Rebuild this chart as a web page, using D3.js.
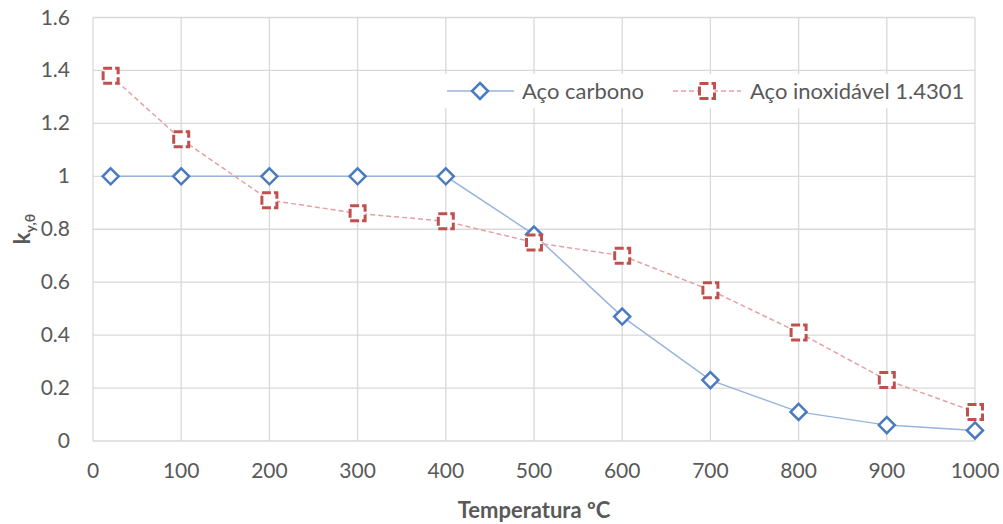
<!doctype html>
<html lang="en">
<head>
  <meta charset="utf-8" />
  <title>k y,θ vs temperatura</title>
  <script src="https://cdn.jsdelivr.net/npm/d3@7"></script>
  <style>
    body { margin: 0; background: #fff; }
    text { font-family: Lato, "Open Sans", sans-serif; fill: #595959; }
  </style>
</head>
<body>
  <svg id="chart" width="1003" height="524"></svg>
  <script>
    const temps = [20, 100, 200, 300, 400, 500, 600, 700, 800, 900, 1000];
    const carbono = [1, 1, 1, 1, 1, 0.78, 0.47, 0.23, 0.11, 0.06, 0.04];
    const inox = [1.38, 1.14, 0.91, 0.86, 0.83, 0.75, 0.70, 0.57, 0.41, 0.23, 0.11];
    const xTicks = [0, 100, 200, 300, 400, 500, 600, 700, 800, 900, 1000];
    const yTicks = [0, 0.2, 0.4, 0.6, 0.8, 1, 1.2, 1.4, 1.6];
    const seriesNames = ["Aço carbono", "Aço inoxidável 1.4301"];

    const svg = d3.select("#chart");
    const x = d3.scaleLinear().domain([0, 1000]).range([93, 975]);
    const y = d3.scaleLinear().domain([0, 1.6]).range([441, 17.5]);

    // gridlines
    svg.append("g").selectAll("line").data(yTicks).enter().append("line")
      .attr("x1", x(0)).attr("x2", x(1000))
      .attr("y1", d => y(d)).attr("y2", d => y(d))
      .attr("stroke", "#d9d9d9").attr("stroke-width", 1.3);
    svg.append("g").selectAll("line").data(xTicks).enter().append("line")
      .attr("x1", d => x(d)).attr("x2", d => x(d))
      .attr("y1", y(0)).attr("y2", y(1.6))
      .attr("stroke", "#d9d9d9").attr("stroke-width", 1.3);

    // tick labels
    svg.append("g").selectAll("text").data(yTicks).enter().append("text")
      .attr("x", 70).attr("y", d => y(d) + 7)
      .attr("text-anchor", "end").style("font-size", "21px")
      .text(d => d);
    svg.append("g").selectAll("text").data(xTicks).enter().append("text")
      .attr("x", d => x(d)).attr("y", 478)
      .attr("text-anchor", "middle").style("font-size", "21px")
      .text(d => d);

    // axis titles
    svg.append("text")
      .attr("x", 534).attr("y", 518)
      .attr("text-anchor", "middle")
      .style("font-size", "22px").style("font-weight", "bold")
      .text("Temperatura ºC");
    const yt = svg.append("text")
      .attr("transform", "translate(30,229) rotate(-90)")
      .attr("text-anchor", "middle")
      .style("font-size", "22px").style("font-weight", "bold");
    yt.append("tspan").text("k");
    yt.append("tspan").attr("dy", 5).style("font-size", "14px").text("y,θ");

    const line = d3.line().x((d, i) => x(temps[i])).y(d => y(d));

    // carbono
    svg.append("path").datum(carbono)
      .attr("d", line).attr("fill", "none")
      .attr("stroke", "#98b4dc").attr("stroke-width", 1.5);
    const diamond = (g, cx, cy) => g.append("path")
      .attr("d", `M${cx},${cy - 8}L${cx + 8},${cy}L${cx},${cy + 8}L${cx - 8},${cy}Z`)
      .attr("fill", "#fff").attr("stroke", "#4a7ac0").attr("stroke-width", 2.5);
    const gc = svg.append("g");
    carbono.forEach((v, i) => diamond(gc, x(temps[i]), y(v)));

    // inox
    svg.append("path").datum(inox)
      .attr("d", line).attr("fill", "none")
      .attr("stroke", "#e6a0a0").attr("stroke-width", 1.5)
      .attr("stroke-dasharray", "5,3");
    const square = (g, cx, cy) => g.append("rect")
      .attr("x", cx - 7.5).attr("y", cy - 7.5)
      .attr("width", 15).attr("height", 15)
      .attr("fill", "#fff").attr("stroke", "#c0504d").attr("stroke-width", 3)
      .attr("stroke-dasharray", "9,3");
    const gi = svg.append("g");
    inox.forEach((v, i) => square(gi, x(temps[i]), y(v)));

    // legend
    const leg = svg.append("g");
    leg.append("rect").attr("x", 440).attr("y", 74).attr("width", 532).attr("height", 34).attr("fill", "#fff");
    leg.append("line").attr("x1", 447).attr("x2", 514).attr("y1", 91).attr("y2", 91)
      .attr("stroke", "#98b4dc").attr("stroke-width", 1.5);
    diamond(leg, 480, 91);
    leg.append("text").attr("x", 522).attr("y", 99).style("font-size", "22px").text(seriesNames[0]);
    leg.append("line").attr("x1", 673).attr("x2", 741).attr("y1", 91).attr("y2", 91)
      .attr("stroke", "#e6a0a0").attr("stroke-width", 1.5).attr("stroke-dasharray", "5,3");
    square(leg, 707, 91);
    leg.append("text").attr("x", 750).attr("y", 99).style("font-size", "22px").text(seriesNames[1]);
  </script>
</body>
</html>
